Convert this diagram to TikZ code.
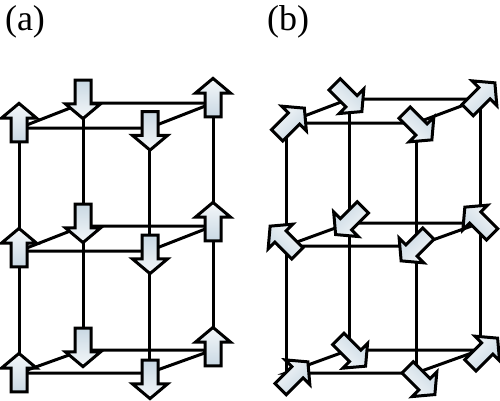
\documentclass[tikz,border=0pt]{standalone}
\usepackage{fontspec}
\setmainfont{Liberation Serif}
\usetikzlibrary{shapes.arrows}

\begin{document}
\begin{tikzpicture}[x=1pt, y=-1pt, line width=3pt,
  spin/.style={single arrow, draw, inner xsep=0pt, inner ysep=6.5pt, outer sep=0pt,
    minimum height=38.5pt, single arrow head extend=9.5pt, single arrow tip angle=100,
    line width=3pt, miter limit=10, left color=spinpale, right color=spinblue},
  panellabel/.style={inner sep=0pt, font=\fontsize{36}{36}\selectfont},
]
  \definecolor{spinblue}{HTML}{C9D8E3}
  \definecolor{spinpale}{HTML}{F4F7F9}
  \useasboundingbox (0,0) rectangle (500,400);
  \node[panellabel] (labela) at (25,22) {(a)};
  \node[panellabel] (labelb) at (288,22) {(b)};
  % lattice of panel a
  \foreach \lay/\yb/\yf in {1/103/128, 2/226/251, 3/350/373} {
    \coordinate (aBL\lay) at (83,\yb);
    \coordinate (aBR\lay) at (213,\yb);
    \coordinate (aFL\lay) at (19,\yf);
    \coordinate (aFR\lay) at (149,\yf);
    \draw (aFL\lay) -- (aFR\lay) -- (aBR\lay) -- (aBL\lay) -- cycle;
  }
  % lattice of panel b
  \foreach \lay/\yb/\yf in {1/99/123, 2/223/246, 3/350/373} {
    \coordinate (bBL\lay) at (349,\yb);
    \coordinate (bBR\lay) at (480,\yb);
    \coordinate (bFL\lay) at (286,\yf);
    \coordinate (bFR\lay) at (416,\yf);
    \draw (bFL\lay) -- (bFR\lay) -- (bBR\lay) -- (bBL\lay) -- cycle;
  }
  \foreach \pan in {a,b}
    \foreach \col in {BL,BR,FL,FR}
      \draw (\pan\col1) -- (\pan\col3);
  % spins of both panels
  \foreach \nm/\cx/\cy/\ang [evaluate=\ang as \shd using 90-\ang] in {
      sa1/19/123/90, sa2/83/99/-90, sa3/213/98/90, sa4/150/130.5/-90,
      sa5/19/248/90, sa6/83/223/-90, sa7/213/222/90, sa8/150/254/-90,
      sa9/19/373/90, sa10/83/347/-90, sa11/213/347/90, sa12/150/379/-90,
      sb1/290.5/122/45, sb2/348/97.7/-45, sb3/481/96.7/45, sb4/418/126/-45,
      sb5/284/240/135, sb6/349.5/220.7/-135, sb7/478.7/221/135, sb8/415/247/-135,
      sb9/294/375.7/45, sb10/351.7/352.3/-45, sb11/483.7/352/45, sb12/421/380.7/-45}
    \node[spin, shading angle=\shd, rotate=\ang] (\nm) at ([shift={(\ang:-3pt)}]\cx,\cy) {};
\end{tikzpicture}
\end{document}
